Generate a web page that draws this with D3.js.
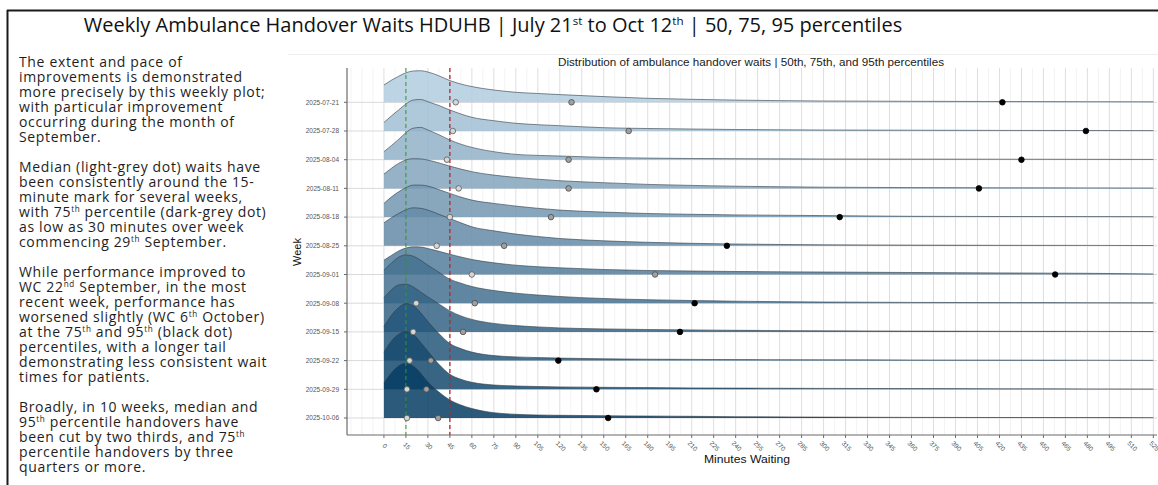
<!DOCTYPE html>
<html>
<head>
<meta charset="utf-8">
<script src="https://cdn.jsdelivr.net/npm/d3@7"></script>
<style>
  body { margin: 0; background: #fff; }
  svg { display: block; }
</style>
</head>
<body>
<svg width="1158" height="485"></svg>
<script>
// ---- data ----
var weeks = ["2025-07-21", "2025-07-28", "2025-08-04", "2025-08-11", "2025-08-18", "2025-08-25",
             "2025-09-01", "2025-09-08", "2025-09-15", "2025-09-22", "2025-09-29", "2025-10-06"];

// percentiles, minutes
var p50 = [49, 47, 43, 51, 45, 36, 60, 22, 20, 17.5, 15.7, 15.7];
var p75 = [128, 167, 126, 126, 114, 82, 185, 62, 54, 32, 29, 37];
var p95 = [422, 479, 435, 406, 311, 234, 458, 212, 202, 119, 145, 153];

// minutes at which the ridge heights were read
var densMinutes = [0, 5, 10, 15, 20, 25, 30, 37.5, 45, 52.5, 60, 75, 90, 105, 120, 150, 180, 210, 240, 300, 360, 420, 480, 525];

// ridge heights (scaled density) for each week
var dens0721 = [17.3, 22, 26, 29.5, 31.3, 31.6, 30.3, 26.5, 21.7, 18.3, 15.7, 12.3, 10, 8.8, 7.7, 5.7, 4, 3, 2.2, 1.3, 1.0, 0.8, 0.6, 0.5];
var dens0728 = [8.5, 15, 21, 27, 31, 31.5, 29.3, 25.5, 21, 17, 13.7, 10.3, 7.7, 6.3, 5.3, 3.3, 2.5, 2, 1.5, 1, 0.8, 0.6, 0.5, 0.4];
var dens0804 = [8, 14, 20.3, 27, 31.5, 32.3, 29.7, 25, 19.7, 15.5, 12.3, 8, 5.3, 4.3, 3.7, 2.3, 1.6, 1.2, 1, 0.7, 0.6, 0.5, 0.4, 0.3];
var dens0811 = [14.3, 20, 25, 28.5, 29.7, 29.5, 28.3, 25.5, 22.3, 19.3, 16.7, 13.3, 11, 9.2, 7.7, 5.7, 4, 3, 2.2, 1.2, 0.8, 0.6, 0.5, 0.4];
var dens0818 = [13.7, 20, 25.3, 29.5, 32, 32, 31, 27.5, 23.7, 20, 17, 13.7, 11, 8.8, 7, 5, 3.6, 2.8, 2.2, 1.5, 0.8, 0.6, 0.5, 0.4];
var dens0825 = [23, 28, 32.3, 36, 38, 37.5, 35.7, 31.5, 27.3, 23, 19, 15, 11.7, 9.3, 7.3, 5, 3.5, 2.5, 1.8, 1, 0.7, 0.5, 0.4, 0.3];
var dens0901 = [14.3, 19, 23.5, 26.5, 27.7, 27.5, 26, 23.2, 20.3, 17.5, 15, 11.7, 9.3, 7.8, 6.7, 5, 4, 3.5, 3, 2.5, 2, 1.6, 1.2, 0.6];
var dens0908 = [33, 40, 46, 48.3, 47, 43, 38, 31, 24, 20, 16.7, 12.7, 10, 8.2, 6.7, 4.7, 3.5, 2.7, 2, 1.2, 0.8, 0.6, 0.5, 0.4];
var dens0915 = [34, 42, 47, 47.7, 45, 40, 35, 28, 21, 16, 12.5, 8.5, 6.3, 5, 4, 3, 2.4, 2, 1.6, 1.1, 0.8, 0.6, 0.5, 0.4];
var dens0922 = [34, 45, 53, 57, 55, 48, 39, 27, 17, 12, 8.5, 5, 3.7, 3, 2.5, 1.8, 1.4, 1.2, 1, 0.8, 0.6, 0.5, 0.4, 0.3];
var dens0929 = [37, 48, 55, 57.7, 55, 47, 38, 25, 15, 10, 7, 4.3, 3.3, 2.8, 2.4, 2, 1.7, 1.4, 1.2, 0.9, 0.7, 0.5, 0.4, 0.3];
var dens1006 = [35, 45, 52, 54.7, 52, 45, 36, 26, 18, 13, 9.5, 5.3, 3.7, 3, 2.7, 2.3, 2, 1.7, 1.3, 0.9, 0.6, 0.5, 0.4, 0.3];
var densByWeek = [dens0721, dens0728, dens0804, dens0811, dens0818, dens0825,
                  dens0901, dens0908, dens0915, dens0922, dens0929, dens1006];

var xTicks = [0, 15, 30, 45, 60, 75, 90, 105, 120, 135, 150, 165, 180, 195, 210, 225, 240, 255, 270, 285,
              300, 315, 330, 345, 360, 375, 390, 405, 420, 435, 450, 465, 480, 495, 510, 525];
var targetLines = [15, 45];

var title = "Weekly Ambulance Handover Waits HDUHB | July 21^{st} to Oct 12^{th} | 50, 75, 95 percentiles";
var subtitle = "Distribution of ambulance handover waits | 50th, 75th, and 95th percentiles";
var notes = [
  ["The extent and pace of", "improvements is demonstrated", "more precisely by this weekly plot;",
   "with particular improvement", "occurring during the month of", "September."],
  ["Median (light-grey dot) waits have", "been consistently around the 15-", "minute mark for several weeks,",
   "with 75^{th} percentile (dark-grey dot)", "as low as 30 minutes over week", "commencing 29^{th} September."],
  ["While performance improved to", "WC 22^{nd} September, in the most", "recent week, performance has",
   "worsened slightly (WC 6^{th} October)", "at the 75^{th} and 95^{th} (black dot)", "percentiles, with a longer tail",
   "demonstrating less consistent wait", "times for patients."],
  ["Broadly, in 10 weeks, median and", "95^{th} percentile handovers have", "been cut by two thirds, and 75^{th}",
   "percentile handovers by three", "quarters or more."]
];

// ---- drawing ----
var svg = d3.select("svg");
var panel = { left: 347, right: 1157, top: 68, bottom: 435 };

var x = d3.scaleLinear().domain([-25.2, 527.5]).range([panel.left, panel.right]);
var y = d3.scalePoint().domain(weeks).range([102.3, 418]);
var hgt = d3.scaleLinear().domain([0, 50]).range([0, 50]);
var fill = d3.scaleLinear().domain([0, weeks.length - 1]).range(["#b2ccdf", "#063d63"]);

// text with ^{..} superscripts; fs = font size of the parent text
function richText(sel, str, fs) {
  var parts = str.split(/(\^\{[^}]*\})/);
  var shift = fs * 0.36, up = false;
  parts.forEach(function(p) {
    if (!p) return;
    if (p[0] == "^") {
      sel.append("tspan").attr("dy", -shift).attr("font-size", fs * 0.58).text(p.slice(2, -1));
      up = true;
    } else {
      sel.append("tspan").attr("dy", up ? shift : null).text(p);
      up = false;
    }
  });
}

// frame of the slide
svg.append("line").attr("x1", 7).attr("x2", 1158).attr("y1", 10.5).attr("y2", 10.5)
  .attr("stroke", "#1a1a1a").attr("stroke-width", 2);
svg.append("line").attr("x1", 7.5).attr("x2", 7.5).attr("y1", 10).attr("y2", 485)
  .attr("stroke", "#1a1a1a").attr("stroke-width", 2);

var t = svg.append("text").attr("x", 493).attr("y", 32).attr("text-anchor", "middle")
  .attr("font-family", "Open Sans").attr("font-size", 20).attr("fill", "#111");
richText(t, title, 20);

var noteSize = 14;
var notesG = svg.append("g").attr("font-family", "Open Sans").attr("font-size", noteSize)
  .attr("letter-spacing", 0.65).attr("fill", "#1e1e1e");
var lineNo = 0;
notes.forEach(function(par) {
  par.forEach(function(line) {
    var tx = notesG.append("text").attr("x", 19).attr("y", 67 + lineNo * 15);
    richText(tx, line, noteSize);
    lineNo++;
  });
  lineNo++;
});

// faint edge of the pasted chart
svg.append("line").attr("x1", 288).attr("x2", 1158).attr("y1", 54.5).attr("y2", 54.5)
  .attr("stroke", "#eeeeee").attr("stroke-width", 1);

var plot = svg.append("g");

// grid
var minor = xTicks.map(function(d) { return d - 7.5; }).concat([-15, -22.5]);
plot.append("g").selectAll("line").data(minor).enter().append("line")
  .attr("x1", function(d) { return x(d); }).attr("x2", function(d) { return x(d); })
  .attr("y1", panel.top).attr("y2", panel.bottom)
  .attr("stroke", "#f0f0f0").attr("stroke-width", 0.8);
plot.append("g").selectAll("line").data(xTicks).enter().append("line")
  .attr("x1", function(d) { return x(d); }).attr("x2", function(d) { return x(d); })
  .attr("y1", panel.top).attr("y2", panel.bottom)
  .attr("stroke", "#dedede").attr("stroke-width", 1);
plot.append("g").selectAll("line").data(weeks).enter().append("line")
  .attr("x1", panel.left).attr("x2", panel.right)
  .attr("y1", function(d) { return y(d); }).attr("y2", function(d) { return y(d); })
  .attr("stroke", "#d9d9d9").attr("stroke-width", 1);

// ridges, back to front
weeks.forEach(function(w, i) {
  var base = y(w);
  var pts = densMinutes.map(function(m, j) { return [m, densByWeek[i][j]]; });
  var area = d3.area().curve(d3.curveMonotoneX)
    .x(function(d) { return x(d[0]); })
    .y0(base)
    .y1(function(d) { return base - hgt(d[1]); });
  var line = d3.line().curve(d3.curveMonotoneX)
    .x(function(d) { return x(d[0]); })
    .y(function(d) { return base - hgt(d[1]); });
  plot.append("path").attr("d", area(pts))
    .attr("fill", fill(i)).attr("fill-opacity", 0.85);
  plot.append("path").attr("d", line(pts))
    .attr("fill", "none").attr("stroke", "#2f3b46").attr("stroke-width", 0.7).attr("stroke-opacity", 0.85);
});

// target lines
var lineCol = { 15: "#2e9a2e", 45: "#b52a2a" };
plot.selectAll(".target").data(targetLines).enter().append("line")
  .attr("x1", function(d) { return x(d); }).attr("x2", function(d) { return x(d); })
  .attr("y1", panel.top).attr("y2", panel.bottom)
  .attr("stroke", function(d) { return lineCol[d]; })
  .attr("stroke-width", function(d) { return d == 45 ? 1.3 : 1; })
  .attr("stroke-dasharray", "4,3");

// percentile points
function dots(vals, fillCol, strokeCol) {
  plot.append("g").selectAll("circle").data(weeks).enter().append("circle")
    .attr("cx", function(d, i) { return x(vals[i]); })
    .attr("cy", function(d) { return y(d); })
    .attr("r", 2.8)
    .attr("fill", fillCol).attr("stroke", strokeCol).attr("stroke-width", 0.8);
}
dots(p50, "#d6d6d6", "#5a5a5a");
dots(p75, "#a0a0a0", "#4a4a4a");
dots(p95, "#000000", "#000000");

// axes
var axisCol = "#6b6b6b";
plot.append("line").attr("x1", panel.left).attr("x2", panel.left).attr("y1", panel.top).attr("y2", panel.bottom)
  .attr("stroke", axisCol).attr("stroke-width", 1.2);
plot.append("line").attr("x1", panel.left).attr("x2", panel.right).attr("y1", panel.bottom).attr("y2", panel.bottom)
  .attr("stroke", axisCol).attr("stroke-width", 1.2);

var yAx = plot.append("g").attr("font-family", "Liberation Sans, Arial").attr("font-size", 6.5).attr("fill", "#555");
weeks.forEach(function(w) {
  yAx.append("line").attr("x1", panel.left - 3).attr("x2", panel.left).attr("y1", y(w)).attr("y2", y(w))
    .attr("stroke", axisCol);
  yAx.append("text").attr("x", panel.left - 8).attr("y", y(w) + 2.3).attr("text-anchor", "end").text(w);
});

var xAx = plot.append("g").attr("font-family", "Liberation Sans, Arial").attr("font-size", 6.5).attr("fill", "#555");
xTicks.forEach(function(tk) {
  xAx.append("line").attr("x1", x(tk)).attr("x2", x(tk)).attr("y1", panel.bottom).attr("y2", panel.bottom + 3)
    .attr("stroke", axisCol);
  xAx.append("text").attr("text-anchor", "middle")
    .attr("transform", "translate(" + (x(tk) + 1) + "," + (panel.bottom + 11) + ") rotate(45)")
    .attr("dy", "0.35em").text(tk);
});

svg.append("text").attr("x", 751).attr("y", 65.5).attr("text-anchor", "middle")
  .attr("font-family", "Liberation Sans, Arial").attr("font-size", 10)
  .attr("textLength", 386).attr("lengthAdjust", "spacingAndGlyphs")
  .attr("fill", "#1a1a1a").text(subtitle);
svg.append("text").attr("x", 747).attr("y", 463).attr("text-anchor", "middle")
  .attr("font-family", "Liberation Sans, Arial").attr("font-size", 11)
  .attr("textLength", 86).attr("lengthAdjust", "spacingAndGlyphs")
  .attr("fill", "#111").text("Minutes Waiting");
svg.append("text").attr("transform", "translate(301,252) rotate(-90)").attr("text-anchor", "middle")
  .attr("font-family", "Liberation Sans, Arial").attr("font-size", 11).attr("fill", "#111").text("Week");
</script>
</body>
</html>
